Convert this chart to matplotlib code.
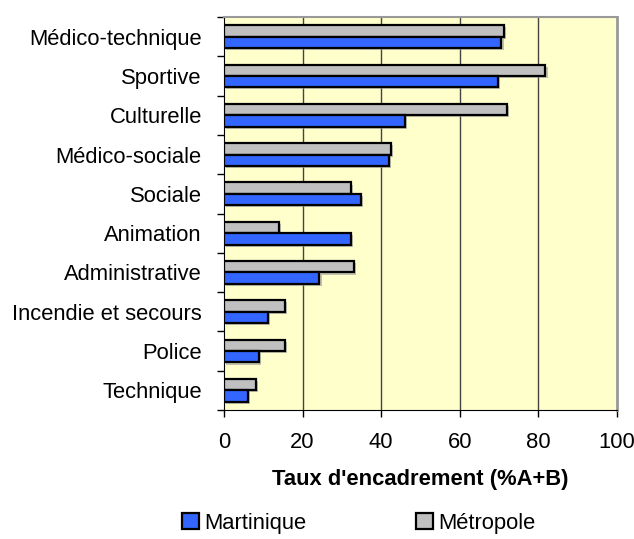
import numpy as np
import matplotlib.pyplot as plt
import matplotlib.patheffects as pe
from matplotlib.patches import Patch

categories = ["Médico-technique", "Sportive", "Culturelle", "Médico-sociale", "Sociale",
              "Animation", "Administrative", "Incendie et secours", "Police", "Technique"]
martinique = [70.6, 69.6, 46.0, 42.0, 34.8, 32.3, 24.3, 11.3, 9.0, 6.0]
metropole = [71.3, 81.8, 72.0, 42.4, 32.3, 14.1, 33.0, 15.5, 15.5, 8.1]
xticks = [0, 20, 40, 60, 80, 100]

plt.rcParams['font.family'] = ['Liberation Sans', 'DejaVu Sans']
fs = 15.8

fig = plt.figure(figsize=(6.34, 5.39), dpi=100)
ax = fig.add_axes([224 / 634, 1 - 410 / 539, 393 / 634, 393 / 539])
ax.set_facecolor('#FFFFCC')

n = len(categories)
y = np.arange(n)
h = 0.29
# slight drop shadow like the original spreadsheet chart
shadow = [pe.SimplePatchShadow(offset=(1.5, -1.5), shadow_rgbFace='#999999', alpha=0.6), pe.Normal()]
ax.barh(y - h / 2, metropole, height=h, color='#C0C0C0', edgecolor='black', linewidth=1.6,
        zorder=3, path_effects=shadow)
ax.barh(y + h / 2, martinique, height=h, color='#3366FF', edgecolor='black', linewidth=1.6,
        zorder=3, path_effects=shadow)

ax.set_ylim(n - 0.5, -0.5)
ax.set_xlim(0, 100)
ax.set_xticks(xticks)
ax.set_xticklabels([str(t) for t in xticks], fontsize=fs)
ax.set_yticks(y)
ax.set_yticklabels(categories, fontsize=fs)
ax.tick_params(axis='y', length=0, pad=16)
ax.set_yticks(np.arange(n + 1) - 0.5, minor=True)
ax.tick_params(axis='y', which='minor', length=5, width=1, direction='out')
ax.tick_params(axis='x', length=5, width=1, direction='out', pad=11)

for t in xticks[1:-1]:
    ax.axvline(t, color='#444444', linewidth=1, zorder=1)

ax.spines['left'].set_color('black')
ax.spines['bottom'].set_color('black')
ax.spines['top'].set_color('#999999')
ax.spines['right'].set_color('#999999')
ax.spines['right'].set_linewidth(2)
ax.spines['top'].set_linewidth(1.5)

ax.set_xlabel("Taux d'encadrement (%A+B)", fontsize=fs, fontweight='bold', labelpad=11)

handles = [Patch(facecolor='#3366FF', edgecolor='black', linewidth=1.6, label='Martinique'),
           Patch(facecolor='#C0C0C0', edgecolor='black', linewidth=1.6, label='Métropole')]
fig.legend(handles=handles, loc='center', bbox_to_anchor=(0.566, 1 - 523 / 539), ncol=2,
           frameon=False, fontsize=fs, handlelength=0.75, handleheight=0.75,
           handletextpad=0.25, columnspacing=5.0)

fig.savefig('out.png', dpi=100)
